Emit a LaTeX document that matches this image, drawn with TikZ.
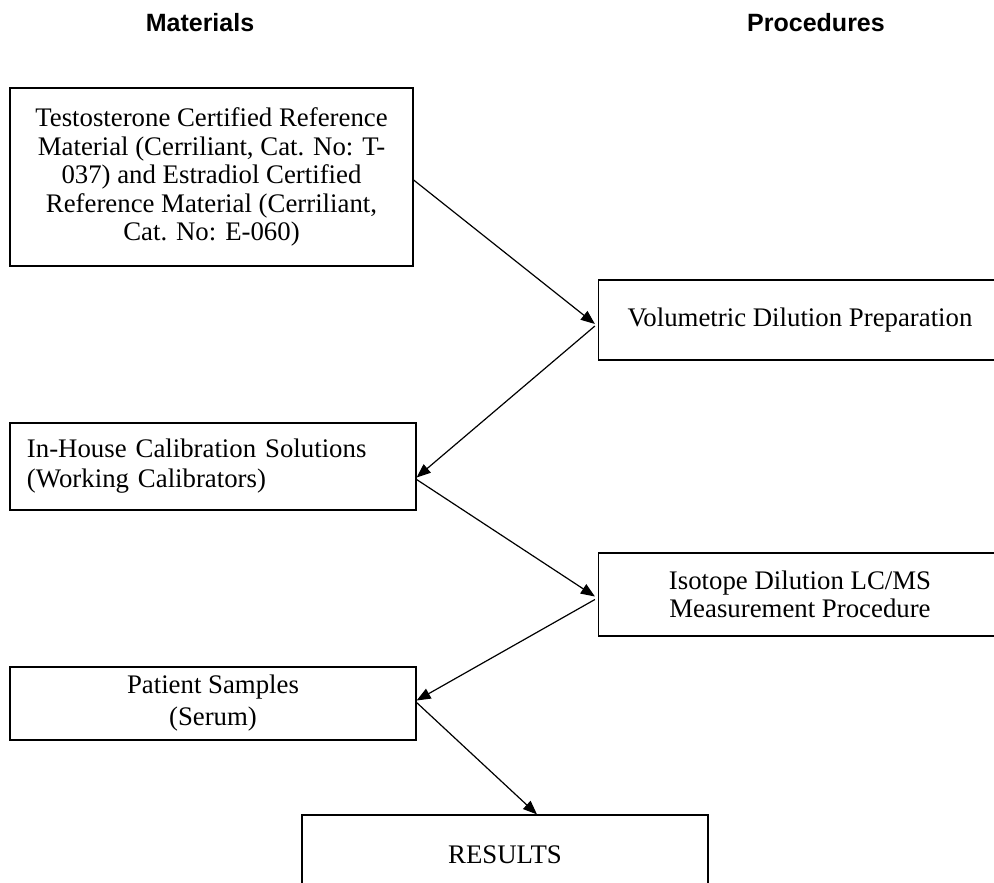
\documentclass[tikz,border=0pt]{standalone}
\usepackage{fontspec}
\setmainfont{Liberation Serif}
\newfontfamily\headfont{Liberation Sans}
\usepackage{tikz}
\usetikzlibrary{arrows.meta}

\begin{document}
\begin{tikzpicture}[
    x=1pt, y=-1pt,
    box/.style={draw, line width=1.2pt, inner sep=0pt, minimum width=403pt,
                align=center, font={\fontsize{26.8pt}{28.5pt}\selectfont}},
    head/.style={font={\headfont\bfseries\fontsize{25pt}{28pt}\selectfont}},
    arrow/.style={->, line width=1.2pt, >={Triangle[length=14pt,width=11pt]}},
  ]
  \useasboundingbox (0,0) rectangle (994,883);
  \clip (0,0) rectangle (994,883);

  \node[head] (mat)  at (200,23) {Materials};
  \node[head] (proc) at (816,23) {Procedures};

  \node[box, minimum height=178pt] (crm) at (211.5,177)
    {Testosterone Certified Reference\\ Material (Cerriliant, Cat. No: T-\\
     037) and Estradiol Certified\\ Reference Material (Cerriliant,\\
     Cat. No: E-060)};
  \node[box, minimum height=80pt]  (vdp)  at (800,320) {Volumetric Dilution Preparation};
  \node[box, minimum width=406pt, minimum height=87pt, text width=372pt, align=left,
        font={\fontsize{26.8pt}{30pt}\selectfont}] (ihc) at (213,466.5)
    {In-House Calibration Solutions\\ (Working Calibrators)};
  \node[box, minimum height=83pt]  (idms) at (800,594.5)
    {Isotope Dilution LC/MS\\ Measurement Procedure};
  \node[box, minimum width=406pt, minimum height=73pt,
        font={\fontsize{26.8pt}{32pt}\selectfont}] (pts) at (213,703.5)
    {Patient Samples\\ (Serum)};
  \node[box, minimum width=406pt, minimum height=80pt] (res) at (505,855) {RESULTS};

  \draw[arrow] ([yshift=-3pt]crm.east)  -- ([xshift=-3pt,yshift=-4pt]vdp.west);
  \draw[arrow] ([xshift=-3pt,yshift=-6pt]vdp.west)  -- ([yshift=-11pt]ihc.east);
  \draw[arrow] ([yshift=-13pt]ihc.east) -- ([xshift=-3pt,yshift=-2pt]idms.west);
  \draw[arrow] ([xshift=-3pt,yshift=-5pt]idms.west) -- ([yshift=3pt]pts.east);
  \draw[arrow] ([yshift=1pt]pts.east)   -- ([xshift=32pt]res.north);
\end{tikzpicture}
\end{document}
